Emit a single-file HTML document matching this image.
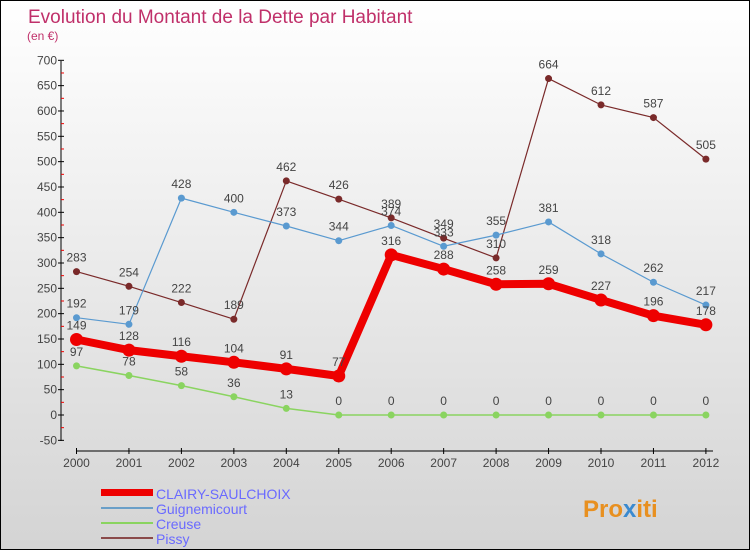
<!DOCTYPE html>
<html><head><meta charset="utf-8"><style>
body{margin:0}
#c{width:750px;height:550px;position:relative;box-sizing:border-box;border:1px solid #000;background:linear-gradient(#ffffff,#d4d4d4);font-family:"Liberation Sans",sans-serif;overflow:hidden}
</style></head><body>
<div id="c">
<svg id="s" width="750" height="550" style="position:absolute;left:0;top:0">
<text x="27" y="22" font-size="19" fill="#c0306a">Evolution du Montant de la Dette par Habitant</text>
<text x="26" y="39" font-size="12" fill="#c0306a">(en €)</text>
<line x1="60" y1="60" x2="60" y2="440" stroke="#000"/>
<line x1="75" y1="450" x2="712" y2="450" stroke="#000"/>
<g id="g"></g>
<g font-size="14">
<rect x="100" y="488" width="52" height="7" fill="#e00"/>
<text x="155" y="498" fill="#6a6aff">CLAIRY-SAULCHOIX</text>
<rect x="100" y="506" width="52" height="2" fill="#6a9fc8"/>
<text x="155" y="513" fill="#6a6aff">Guignemicourt</text>
<rect x="100" y="521" width="52" height="2" fill="#8ad460"/>
<text x="155" y="528" fill="#6a6aff">Creuse</text>
<rect x="100" y="536" width="52" height="2" fill="#8a4a4a"/>
<text x="155" y="543" fill="#6a6aff">Pissy</text>
</g>
<text x="582" y="516" font-size="24" font-weight="bold" fill="#e89020">Pro<tspan fill="#3a8ad0">x</tspan>iti</text>
</svg>
</div>
<script>
const years=[2000,2001,2002,2003,2004,2005,2006,2007,2008,2009,2010,2011,2012];
const yTicks=[-50,0,50,100,150,200,250,300,350,400,450,500,550,600,650,700];
const clairy=[149,128,116,104,91,77,316,288,258,259,227,196,178];
const guigne=[192,179,428,400,373,344,374,333,355,381,318,262,217];
const creuse=[97,78,58,36,13,0,0,0,0,0,0,0,0];
const pissy=[283,254,222,189,462,426,389,349,310,664,612,587,505];
const NS="http://www.w3.org/2000/svg";
const g=document.getElementById('g');
const X=i=>75.5+i*52.45;
const Y=v=>414-v*0.5067;
function el(t,a){const e=document.createElementNS(NS,t);for(const k in a)e.setAttribute(k,a[k]);g.appendChild(e);return e;}
yTicks.forEach(v=>{
 const t=el('line',{x1:57,x2:63,y1:Y(v),y2:Y(v),stroke:'#000'});
 
 
 const m=el('line',{x1:60,x2:63,y1:Y(v+25),y2:Y(v+25),stroke:'#e00'});
 if(v===700)m.remove();
 
 
 const l=el('text',{x:56,y:Y(v)+4,'font-size':12,fill:'#444','text-anchor':'end'});
 l.textContent=v;
 
 
});
years.forEach((y,i)=>{
 const t=el('line',{x1:X(i),x2:X(i),y1:447,y2:453,stroke:'#000'});
 
 
 const l=el('text',{x:X(i),y:466,'font-size':12,fill:'#444','text-anchor':'middle'});
 l.textContent=y;
 
 
});
function series(d,color,w,r,name){
 const p=el('polyline',{points:d.map((v,i)=>X(i)+','+Y(v)).join(' '),fill:'none',stroke:color,'stroke-width':w,'stroke-linejoin':'round'});
 
 
 d.forEach((v,i)=>{
  const c=el('circle',{cx:X(i),cy:Y(v),r:r,fill:color});
  
  
  const t=el('text',{x:X(i),y:Y(v)-10,'font-size':12,fill:'#444','text-anchor':'middle'});
  t.textContent=v;
  
  
 });
}
series(creuse,'#8ad460',1.5,3.5,'creuse');
series(pissy,'#7a2a2a',1.2,3.5,'pissy');
series(guigne,'#5a9ad0',1.2,3.5,'guignemicourt');
series(clairy,'#ee0000',8,6.5,'clairy');
</script>
</body></html>
